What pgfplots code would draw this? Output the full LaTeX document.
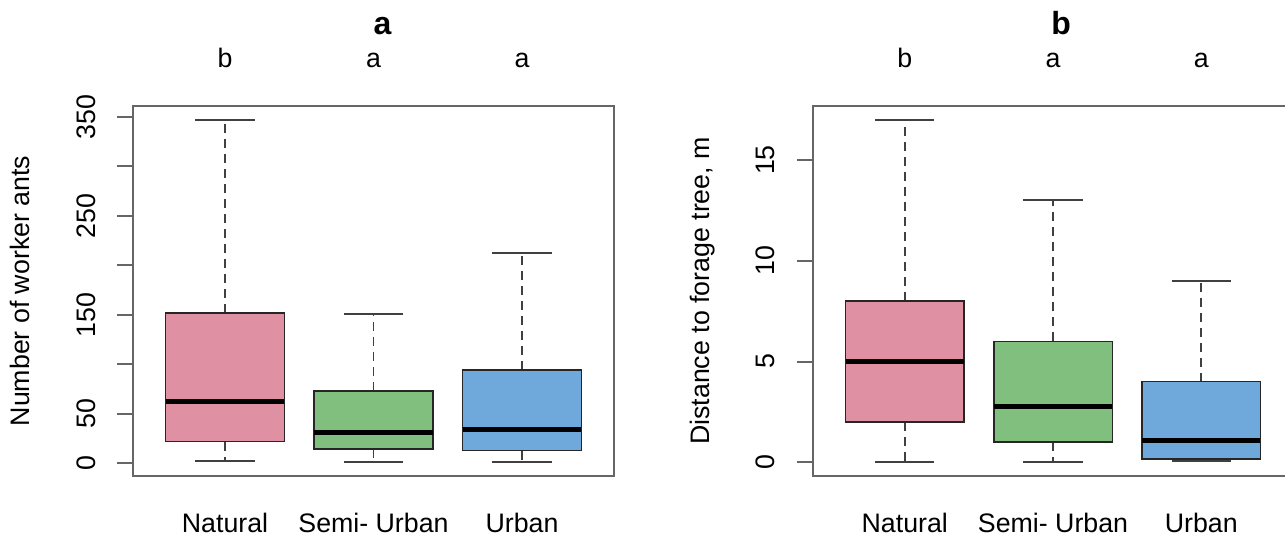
\documentclass[border=0pt]{standalone}
\usepackage{fontspec}
\setmainfont{Liberation Sans}
\usepackage{pgfplots}
\pgfplotsset{compat=1.18}
\usepgfplotslibrary{statistics}
\definecolor{pinkc}{RGB}{223,144,163}
\definecolor{greenc}{RGB}{128,191,126}
\definecolor{bluec}{RGB}{111,168,219}
\newcommand{\fs}{\fontsize{10.7pt}{12.8pt}\selectfont}
\newcommand{\fsb}{\fontsize{12.8pt}{15pt}\selectfont\bfseries}
\pgfplotsset{
  rbox/.style={
    scale only axis, width=192pt, height=148pt, anchor=south west,
    xmin=0.38, xmax=3.62,
    xtick=\empty, yticklabel=\empty, ytick pos=left,
    tick align=outside, major tick length=6.4pt,
    axis line style={black!60, line width=0.85pt},
    every tick/.style={black!60, line width=0.8pt},
    boxplot/draw direction=y,
    boxplot/every whisker/.style={draw=black!75, line width=0.7pt, solid},
    boxplot/every median/.style={draw=black, line width=2pt},
    boxplot/draw/lower whisker/.code={%
      \draw[/pgfplots/boxplot/every whisker/.try, dash pattern=on 3.6pt off 2.4pt]
        (boxplot cs:\pgfplotsboxplotvalue{lower quartile}) -- (boxplot cs:\pgfplotsboxplotvalue{lower whisker});
      \draw[/pgfplots/boxplot/every whisker/.try]
        (boxplot whisker cs:\pgfplotsboxplotvalue{lower whisker},0) -- (boxplot whisker cs:\pgfplotsboxplotvalue{lower whisker},1);
    },
    boxplot/draw/upper whisker/.code={%
      \draw[/pgfplots/boxplot/every whisker/.try, dash pattern=on 3.6pt off 2.4pt]
        (boxplot cs:\pgfplotsboxplotvalue{upper quartile}) -- (boxplot cs:\pgfplotsboxplotvalue{upper whisker});
      \draw[/pgfplots/boxplot/every whisker/.try]
        (boxplot whisker cs:\pgfplotsboxplotvalue{upper whisker},0) -- (boxplot whisker cs:\pgfplotsboxplotvalue{upper whisker},1);
    },
  },
  bx/.style={boxplot/every box/.style={fill=#1, draw=black!85, line width=0.6pt}},
}
\begin{document}
\begin{tikzpicture}[x=1pt,y=1pt]
\useasboundingbox (0,0) rectangle (514,214.4);
\clip (0,0) rectangle (514,214.4);
% ---------- panel a ----------
\begin{axis}[rbox, at={(53.2pt,24pt)}, width=192.4pt,
  ymin=-12.8, ymax=360.8, ytick={0,50,...,350}]
\addplot[bx=pinkc, boxplot prepared={lower whisker=2, lower quartile=22, median=62.6,
  upper quartile=152, upper whisker=346.5, draw position=1, box extend=0.8, whisker extend=0.4}]
  coordinates {};
\addplot[bx=greenc, boxplot prepared={lower whisker=1.3, lower quartile=14.4, median=31.6,
  upper quartile=72.9, upper whisker=151, draw position=2, box extend=0.8, whisker extend=0.4}]
  coordinates {};
\addplot[bx=bluec, boxplot prepared={lower whisker=1.3, lower quartile=12.7, median=34.4,
  upper quartile=94.2, upper whisker=212, draw position=3, box extend=0.8, whisker extend=0.4}]
  coordinates {};
\end{axis}
% ---------- panel b ----------
\begin{axis}[rbox, at={(325.2pt,24pt)},
  ymin=-0.68, ymax=17.68, ytick={0,5,10,15}]
\addplot[bx=pinkc, boxplot prepared={lower whisker=0, lower quartile=2, median=5,
  upper quartile=8, upper whisker=17, draw position=1, box extend=0.8, whisker extend=0.4}]
  coordinates {};
\addplot[bx=greenc, boxplot prepared={lower whisker=0, lower quartile=1, median=2.75,
  upper quartile=6, upper whisker=13, draw position=2, box extend=0.8, whisker extend=0.4}]
  coordinates {};
\addplot[bx=bluec, boxplot prepared={lower whisker=0.05, lower quartile=0.17, median=1.06,
  upper quartile=4, upper whisker=9, draw position=3, box extend=0.8, whisker extend=0.4}]
  coordinates {};
\end{axis}
% ---------- texts, panel a ----------
\node[rotate=90,font=\fs,inner sep=0pt] at (34.7,29.07) {0};
\node[rotate=90,font=\fs,inner sep=0pt] at (34.7,48.88) {50};
\node[rotate=90,font=\fs,inner sep=0pt] at (34.7,88.49) {150};
\node[rotate=90,font=\fs,inner sep=0pt] at (34.7,128.1) {250};
\node[rotate=90,font=\fs,inner sep=0pt] at (34.7,167.7) {350};
\node[anchor=base,font=\fs] at (90.0,1.3) {Natural};
\node[anchor=base,font=\fs] at (149.4,1.3) {Semi- Urban};
\node[anchor=base,font=\fs] at (208.8,1.3) {Urban};
\node[anchor=base,font=\fs] at (90.0,187.2) {b};
\node[anchor=base,font=\fs] at (149.4,187.2) {a};
\node[anchor=base,font=\fs] at (208.8,187.2) {a};
\node[anchor=base,font=\fsb] at (153.0,200.4) {a};
\node[rotate=90,anchor=base,font=\fs] at (12.0,98) {Number of worker ants};
% ---------- texts, panel b ----------
\node[rotate=90,font=\fs,inner sep=0pt] at (306.2,29.48) {0};
\node[rotate=90,font=\fs,inner sep=0pt] at (306.2,69.79) {5};
\node[rotate=90,font=\fs,inner sep=0pt] at (306.2,110.09) {10};
\node[rotate=90,font=\fs,inner sep=0pt] at (306.2,150.4) {15};
\node[anchor=base,font=\fs] at (361.9,1.3) {Natural};
\node[anchor=base,font=\fs] at (421.2,1.3) {Semi- Urban};
\node[anchor=base,font=\fs] at (480.5,1.3) {Urban};
\node[anchor=base,font=\fs] at (361.9,187.2) {b};
\node[anchor=base,font=\fs] at (421.2,187.2) {a};
\node[anchor=base,font=\fs] at (480.5,187.2) {a};
\node[anchor=base,font=\fsb] at (424.5,200.4) {b};
\node[rotate=90,anchor=base,font=\fs] at (283.6,98) {Distance to forage tree, m};
\end{tikzpicture}
\end{document}
